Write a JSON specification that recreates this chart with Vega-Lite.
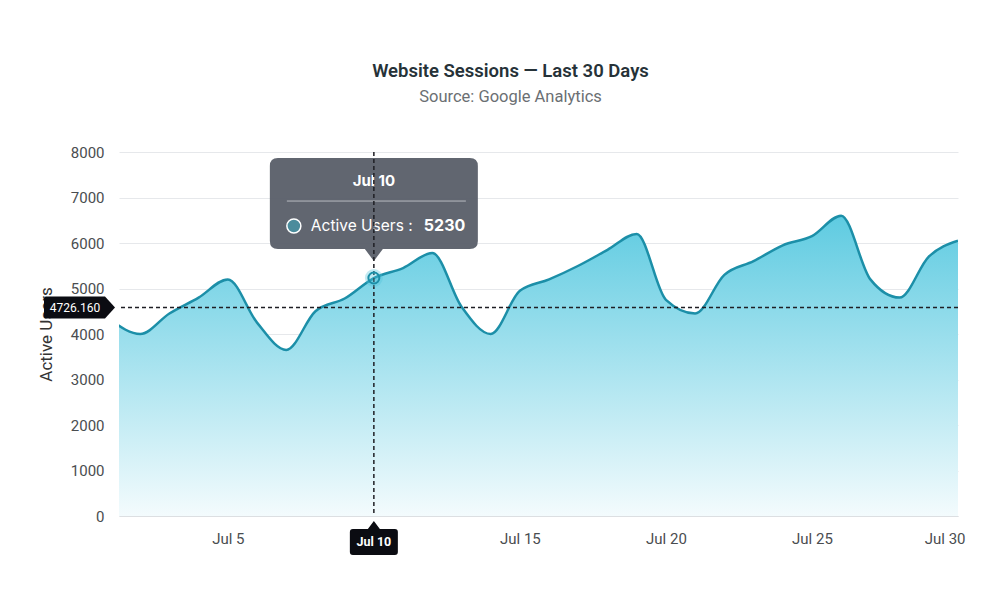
{
  "$schema": "https://vega.github.io/schema/vega-lite/v6.json",
  "description": "Website sessions over the last 30 days, area chart with hover crosshair and tooltip.",
  "width": 839,
  "height": 364,
  "autosize": {"type": "none"},
  "padding": {"left": 119, "top": 152, "right": 42, "bottom": 84},
  "background": "#ffffff",
  "title": {
    "text": "Website Sessions — Last 30 Days",
    "subtitle": "Source: Google Analytics",
    "anchor": "middle",
    "dx": -28,
    "offset": 40,
    "font": "Roboto",
    "fontSize": 18.5,
    "fontWeight": 600,
    "color": "#263238",
    "subtitleFont": "Roboto",
    "subtitleFontSize": 16.5,
    "subtitleColor": "#6b6f73",
    "subtitlePadding": 8
  },
  "datasets": {
    "sessions": [
      {"day": 1, "users": 4300},
      {"day": 2, "users": 4000},
      {"day": 3, "users": 4450},
      {"day": 4, "users": 4800},
      {"day": 5, "users": 5200},
      {"day": 6, "users": 4250},
      {"day": 7, "users": 3650},
      {"day": 8, "users": 4500},
      {"day": 9, "users": 4780},
      {"day": 10, "users": 5230},
      {"day": 11, "users": 5450},
      {"day": 12, "users": 5780},
      {"day": 13, "users": 4600},
      {"day": 14, "users": 4000},
      {"day": 15, "users": 4950},
      {"day": 16, "users": 5200},
      {"day": 17, "users": 5500},
      {"day": 18, "users": 5850},
      {"day": 19, "users": 6200},
      {"day": 20, "users": 4750},
      {"day": 21, "users": 4450},
      {"day": 22, "users": 5300},
      {"day": 23, "users": 5600},
      {"day": 24, "users": 5950},
      {"day": 25, "users": 6150},
      {"day": 26, "users": 6600},
      {"day": 27, "users": 5200},
      {"day": 28, "users": 4800},
      {"day": 29, "users": 5700},
      {"day": 30, "users": 6050}
    ],
    "hover": [
      {"day": 10, "label": "Jul 10", "users": 5230, "cursor": 4580, "cursorLabel": "4726.160"}
    ]
  },
  "layer": [
    {
      "data": {"name": "sessions"},
      "mark": {
        "type": "area",
        "interpolate": "monotone",
        "clip": true,
        "color": {
          "gradient": "linear",
          "x1": 0, "y1": 0, "x2": 0, "y2": 1,
          "stops": [
            {"offset": 0, "color": "#5ecbe1"},
            {"offset": 1, "color": "#f3fbfd"}
          ]
        }
      },
      "encoding": {
        "x": {
          "field": "day",
          "type": "quantitative",
          "scale": {"domain": [1.274, 30], "nice": false, "zero": false},
          "axis": {
            "values": [5, 15, 20, 25, 30],
            "labelExpr": "'Jul ' + datum.value",
            "title": null,
            "grid": false,
            "ticks": false,
            "domain": true,
            "domainColor": "#dcdfe2",
            "labelPadding": 15,
            "labelFlush": true,
            "labelFlushOffset": 7
          }
        },
        "y": {
          "field": "users",
          "type": "quantitative",
          "scale": {"domain": [0, 8000], "nice": false},
          "axis": {
            "values": [0, 1000, 2000, 3000, 4000, 5000, 6000, 7000, 8000],
            "format": "d",
            "title": "Active Users",
            "grid": true,
            "ticks": false,
            "domain": false,
            "labelPadding": 15,
            "titlePadding": 15
          }
        }
      }
    },
    {
      "data": {"name": "sessions"},
      "mark": {"type": "line", "interpolate": "monotone", "clip": true, "stroke": "#1c8fa8", "strokeWidth": 2.5},
      "encoding": {
        "x": {"field": "day", "type": "quantitative"},
        "y": {"field": "users", "type": "quantitative"}
      }
    },
    {
      "data": {"name": "hover"},
      "mark": {
        "type": "point",
        "shape": "M-96,-120 H96 Q104,-120 104,-112 V-37 Q104,-29 96,-29 H9 L0,-17 L-9,-29 H-96 Q-104,-29 -104,-37 V-112 Q-104,-120 -96,-120 Z",
        "size": 4,
        "filled": true,
        "fill": "#5b606a",
        "fillOpacity": 0.96,
        "strokeWidth": 0
      },
      "encoding": {
        "x": {"field": "day", "type": "quantitative"},
        "y": {"field": "users", "type": "quantitative"}
      }
    },
    {
      "data": {"name": "hover"},
      "mark": {
        "type": "point",
        "shape": "M-87,-77 H92",
        "size": 4,
        "filled": false,
        "stroke": "#b8bbc1",
        "strokeWidth": 1,
        "opacity": 1
      },
      "encoding": {
        "x": {"field": "day", "type": "quantitative"},
        "y": {"field": "users", "type": "quantitative"}
      }
    },
    {
      "data": {"name": "hover"},
      "mark": {
        "type": "point",
        "shape": "M-73,-52 A7,7 0 1 1 -87,-52 A7,7 0 1 1 -73,-52 Z",
        "size": 4,
        "filled": true,
        "fill": "#4b8c9c",
        "stroke": "#ffffff",
        "strokeWidth": 1.5,
        "opacity": 1
      },
      "encoding": {
        "x": {"field": "day", "type": "quantitative"},
        "y": {"field": "users", "type": "quantitative"}
      }
    },
    {
      "data": {"name": "hover"},
      "mark": {"type": "text", "dy": -97, "font": "Inter", "fontSize": 15, "fontWeight": "bold", "color": "#ffffff", "baseline": "middle"},
      "encoding": {
        "x": {"field": "day", "type": "quantitative"},
        "y": {"field": "users", "type": "quantitative"},
        "text": {"field": "label"}
      }
    },
    {
      "data": {"name": "hover"},
      "mark": {"type": "text", "dx": -63, "dy": -52, "align": "left", "baseline": "middle", "font": "Inter", "fontSize": 15.5, "color": "#ffffff"},
      "encoding": {
        "x": {"field": "day", "type": "quantitative"},
        "y": {"field": "users", "type": "quantitative"},
        "text": {"value": "Active Users :"}
      }
    },
    {
      "data": {"name": "hover"},
      "mark": {"type": "text", "dx": 50, "dy": -52, "align": "left", "baseline": "middle", "font": "Inter", "fontSize": 16, "fontWeight": "bold", "color": "#ffffff"},
      "encoding": {
        "x": {"field": "day", "type": "quantitative"},
        "y": {"field": "users", "type": "quantitative"},
        "text": {"field": "users", "type": "quantitative", "format": "d"}
      }
    },
    {
      "data": {"name": "hover"},
      "mark": {"type": "rule", "color": "#1f1f24", "strokeWidth": 1.5, "strokeDash": [4, 3]},
      "encoding": {
        "x": {"field": "day", "type": "quantitative"}
      }
    },
    {
      "data": {"name": "hover"},
      "mark": {"type": "rule", "color": "#1f1f24", "strokeWidth": 1.5, "strokeDash": [4, 3]},
      "encoding": {
        "y": {"field": "cursor", "type": "quantitative"}
      }
    },
    {
      "data": {"name": "hover"},
      "mark": {"type": "point", "shape": "circle", "size": 320, "filled": true, "fill": "#4fc3db", "fillOpacity": 0.35, "strokeWidth": 0},
      "encoding": {
        "x": {"field": "day", "type": "quantitative"},
        "y": {"field": "users", "type": "quantitative"}
      }
    },
    {
      "data": {"name": "hover"},
      "mark": {"type": "point", "shape": "circle", "size": 120, "filled": false, "stroke": "#1c8fa8", "strokeWidth": 2, "opacity": 1},
      "encoding": {
        "x": {"field": "day", "type": "quantitative"},
        "y": {"field": "users", "type": "quantitative"}
      }
    },
    {
      "data": {"name": "hover"},
      "mark": {
        "type": "point",
        "shape": "M-21,13 H-6 L0,5 L6,13 H21 Q24,13 24,16 V36 Q24,39 21,39 H-21 Q-24,39 -24,36 V16 Q-24,13 -21,13 Z",
        "size": 4,
        "filled": true,
        "fill": "#0b0c12",
        "strokeWidth": 0,
        "opacity": 1
      },
      "encoding": {
        "x": {"field": "day", "type": "quantitative"},
        "y": {"datum": 0, "type": "quantitative"}
      }
    },
    {
      "data": {"name": "hover"},
      "mark": {"type": "text", "dy": 26, "baseline": "middle", "font": "Roboto", "fontSize": 12.5, "fontWeight": "bold", "color": "#ffffff"},
      "encoding": {
        "x": {"field": "day", "type": "quantitative"},
        "y": {"datum": 0, "type": "quantitative"},
        "text": {"field": "label"}
      }
    },
    {
      "data": {"name": "hover"},
      "mark": {
        "type": "point",
        "shape": "M-73,-11 H-14 L-4,0 L-14,11 H-73 Q-75,11 -75,9 V-9 Q-75,-11 -73,-11 Z",
        "size": 4,
        "filled": true,
        "fill": "#0b0c12",
        "strokeWidth": 0,
        "opacity": 1
      },
      "encoding": {
        "x": {"datum": 1.274, "type": "quantitative"},
        "y": {"field": "cursor", "type": "quantitative"}
      }
    },
    {
      "data": {"name": "hover"},
      "mark": {"type": "text", "dx": -44, "baseline": "middle", "font": "Roboto", "fontSize": 12, "color": "#ffffff"},
      "encoding": {
        "x": {"datum": 1.274, "type": "quantitative"},
        "y": {"field": "cursor", "type": "quantitative"},
        "text": {"field": "cursorLabel"}
      }
    }
  ],
  "config": {
    "font": "Roboto",
    "view": {"stroke": null},
    "axis": {
      "labelFont": "Roboto",
      "labelFontSize": 15,
      "labelColor": "#4a4d50",
      "titleFont": "Roboto",
      "titleFontSize": 17,
      "titleFontWeight": "normal",
      "titleColor": "#333333",
      "gridColor": "#e6e8eb",
      "gridWidth": 1
    }
  }
}
